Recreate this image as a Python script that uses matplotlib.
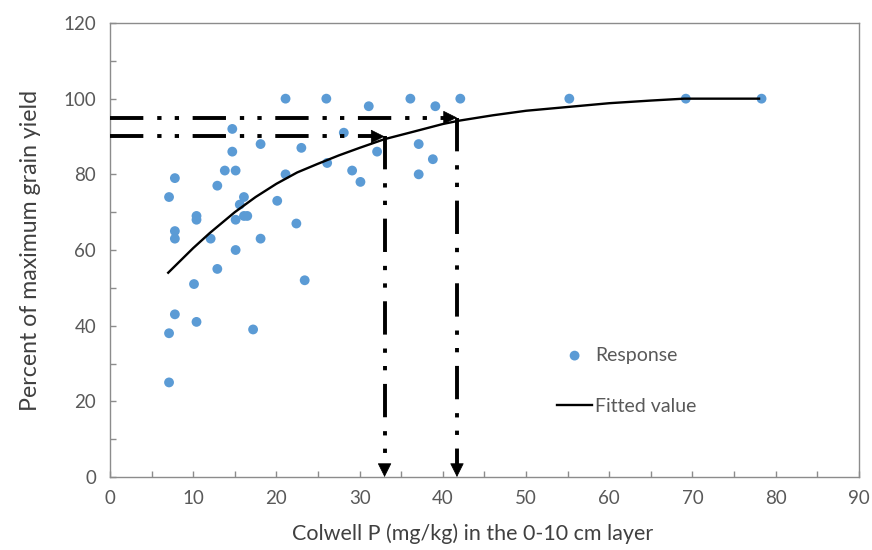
import matplotlib
matplotlib.use("Agg")
import matplotlib.pyplot as plt

plt.rcParams['font.family'] = ['Lato', 'DejaVu Sans']

# Observed responses
colwell_p = [7.1, 7.8, 7.8, 7.8, 7.1, 7.8, 7.1, 10.1, 10.4, 10.4, 10.4, 12.1, 12.9, 12.9,
             13.8, 14.7, 14.7, 15.1, 15.1, 15.1, 15.6, 16.1, 16.1, 16.5, 17.2, 18.1, 18.1,
             20.1, 21.1, 21.1, 22.4, 23.0, 23.4, 26.0, 26.1, 28.1, 29.1, 30.1, 31.1, 32.1,
             36.1, 37.1, 37.1, 38.8, 39.1, 42.1, 55.2, 69.2, 78.3]
response = [74, 79, 65, 63, 38, 43, 25, 51, 69, 68, 41, 63, 77, 55,
            81, 92, 86, 81, 68, 60, 72, 74, 69, 69, 39, 88, 63,
            73, 100, 80, 67, 87, 52, 100, 83, 91, 81, 78, 98, 86,
            100, 88, 80, 84, 98, 100, 100, 100, 100]

# Fitted curve
fit_x = [7, 10, 12, 15, 17.5, 20, 22.5, 25, 27.5, 30, 33, 36, 40, 42, 46, 50, 55, 60, 65, 69, 78]
fit_y = [54, 60.5, 64.5, 70, 74, 77.5, 80.5, 82.8, 85, 87, 89.3, 91, 93.3, 94.2, 95.6, 96.8,
         97.8, 98.8, 99.5, 100, 100]

# Critical values
crit_levels = [90, 95]
crit_p = [33.0, 41.7]

fig = plt.figure(figsize=(8.72, 5.5), dpi=100)
ax = fig.add_axes([0.1261, 0.1327, 0.8589, 0.8255])

ax.scatter(colwell_p, response, s=50, color='#5B9BD5', edgecolors='none', zorder=3, label='Response')
ax.plot(fit_x, fit_y, color='black', lw=1.7, zorder=4, label='Fitted value')

lw = 2.8
dash = (0, (24 / lw, 10 / lw, 3.1 / lw, 9.5 / lw, 3.1 / lw, 9.8 / lw))
for lvl, p in zip(crit_levels, crit_p):
    ax.plot([0, p - 1.3], [lvl, lvl], color='black', lw=lw, linestyle=dash, zorder=5)
    ax.annotate('', xy=(p, lvl), xytext=(p - 1.4, lvl),
                arrowprops=dict(arrowstyle='-|>,head_length=9,head_width=4.5', mutation_scale=1,
                                color='black', lw=0.5, shrinkA=0, shrinkB=0), zorder=6)
    ax.plot([p, p], [lvl, 3.0], color='black', lw=lw, linestyle=dash, zorder=5)
    ax.annotate('', xy=(p, 0), xytext=(p, 3.2),
                arrowprops=dict(arrowstyle='-|>,head_length=9,head_width=4.5', mutation_scale=1,
                                color='black', lw=0.5, shrinkA=0, shrinkB=0), zorder=6)

ax.set_xlim(0, 90)
ax.set_ylim(0, 120)
ax.set_xticks(range(0, 91, 10))
ax.set_yticks(range(0, 121, 20))
ax.set_xticks(range(5, 90, 10), minor=True)
ax.set_yticks(range(10, 120, 20), minor=True)
for side in ax.spines.values():
    side.set_color('#8c8c8c')
    side.set_linewidth(1.0)
ax.tick_params(which='both', direction='in', length=4, width=1.0, color='#8c8c8c',
               labelsize=13.5, labelcolor='#595959')
ax.tick_params(axis='x', pad=9)
ax.tick_params(axis='y', pad=10)

ax.set_xlabel('Colwell P (mg/kg) in the 0-10 cm layer', fontsize=15.5, color='#404040')
ax.xaxis.set_label_coords(0.484, -0.103)
ax.set_ylabel('Percent of maximum grain yield', fontsize=16.7, color='#404040', labelpad=16)

leg = ax.legend(loc='upper left', bbox_to_anchor=(0.597, 0.287), frameon=False, fontsize=14,
                borderpad=0, borderaxespad=0, handlelength=1.8, handletextpad=0.15,
                labelspacing=1.75)
for t in leg.get_texts():
    t.set_color('#595959')

fig.savefig('out.png', dpi=100)
